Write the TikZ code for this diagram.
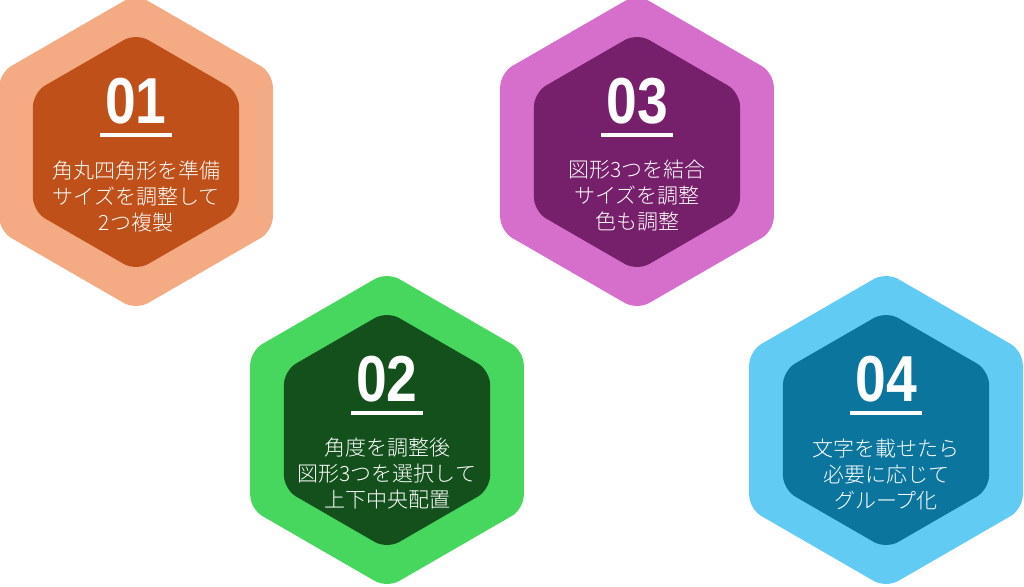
\documentclass[tikz,border=0pt]{standalone}
\usepackage{fontspec}
\newfontfamily\numfont[FakeStretch=0.85]{Liberation Sans}
\newfontfamily\jpfont{Noto Sans CJK JP Light}
\usetikzlibrary{
  positioning,
  shapes.geometric
}

\definecolor{peachOuter}{HTML}{F4AB84}
\definecolor{peachInner}{HTML}{C0501A}
\definecolor{greenOuter}{HTML}{47D65E}
\definecolor{greenInner}{HTML}{13501C}
\definecolor{plumOuter}{HTML}{D66ECB}
\definecolor{plumInner}{HTML}{761F6A}
\definecolor{skyOuter}{HTML}{62CBF3}
\definecolor{skyInner}{HTML}{0B759E}

\begin{document}
\begin{tikzpicture}[
    x=1pt,y=-1pt,
    outerHex/.style={regular polygon,regular polygon sides=6,shape border rotate=30,
      minimum size=316pt,inner sep=0pt,outer sep=0pt,rounded corners=14pt},
    innerHex/.style={regular polygon,regular polygon sides=6,shape border rotate=30,
      minimum size=238pt,inner sep=0pt,outer sep=0pt,rounded corners=14pt},
    numLabel/.style={text=white,inner sep=0pt,font=\numfont\bfseries\fontsize{65}{65}\selectfont},
    barNode/.style={fill=white,minimum width=72pt,minimum height=4pt,inner sep=0pt},
    stepText/.style={text=white,inner sep=0pt,align=center,font=\jpfont\fontsize{21}{26}\selectfont},
  ]
    \useasboundingbox (0,0) rectangle (1024,586);

    % step 01
    \node[outerHex,fill=peachOuter] (hexA) at (136,152) {};
    \node[innerHex,fill=peachInner] (coreA) at (hexA.center) {};
    \node[numLabel] (numA) at ([yshift=51pt]coreA.center) {01};
    \node[barNode] (barA) at ([yshift=17pt]coreA.center) {};
    \node[stepText] (textA) at ([yshift=-44pt]coreA.center) {角丸四角形を準備\\サイズを調整して\\2つ複製};

    % step 03
    \node[outerHex,fill=plumOuter,right of=hexA,node distance=501pt] (hexC) {};
    \node[innerHex,fill=plumInner] (coreC) at (hexC.center) {};
    \node[numLabel] (numC) at ([yshift=51pt]coreC.center) {03};
    \node[barNode] (barC) at ([yshift=17pt]coreC.center) {};
    \node[stepText] (textC) at ([yshift=-44pt]coreC.center) {図形3つを結合\\サイズを調整\\色も調整};

    % step 02
    \node[outerHex,fill=greenOuter] (hexB) at (387,430) {};
    \node[innerHex,fill=greenInner] (coreB) at (hexB.center) {};
    \node[numLabel] (numB) at ([yshift=51pt]coreB.center) {02};
    \node[barNode] (barB) at ([yshift=17pt]coreB.center) {};
    \node[stepText] (textB) at ([yshift=-44pt]coreB.center) {角度を調整後\\図形3つを選択して\\上下中央配置};

    % step 04
    \node[outerHex,fill=skyOuter,right of=hexB,node distance=499pt] (hexD) {};
    \node[innerHex,fill=skyInner] (coreD) at (hexD.center) {};
    \node[numLabel] (numD) at ([yshift=51pt]coreD.center) {04};
    \node[barNode] (barD) at ([yshift=17pt]coreD.center) {};
    \node[stepText] (textD) at ([yshift=-44pt]coreD.center) {文字を載せたら\\必要に応じて\\グループ化};
  \end{tikzpicture}
\end{document}
